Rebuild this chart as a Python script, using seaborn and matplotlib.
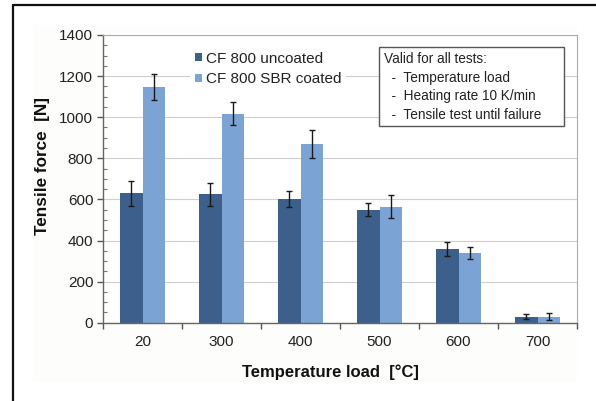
import numpy as np
import pandas as pd
import matplotlib
matplotlib.use("Agg")
import matplotlib.pyplot as plt
from matplotlib.lines import Line2D
from matplotlib.patches import Rectangle
from matplotlib.ticker import MultipleLocator, FixedLocator
import seaborn as sns

# Tensile force after temperature load, mean and scatter per series
temperatures = ["20", "300", "400", "500", "600", "700"]
uncoated_force = [630, 625, 603, 550, 360, 30]
uncoated_err = [60, 55, 40, 33, 33, 12]
coated_force = [1148, 1018, 870, 565, 340, 30]
coated_err = [63, 55, 68, 55, 28, 18]
series_names = ["CF 800 uncoated", "CF 800 SBR coated"]
series_colors = ["#3c5f8c", "#7ba4d4"]
note_lines = ["Valid for all tests:",
              "  -  Temperature load",
              "  -  Heating rate 10 K/min",
              "  -  Tensile test until failure"]

sns.set_theme(style="white")
plt.rcParams["font.family"] = ["Liberation Sans", "DejaVu Sans"]

df = pd.DataFrame({
    "Temperature": temperatures * 2,
    "Force": uncoated_force + coated_force,
    "Series": [series_names[0]] * len(temperatures) + [series_names[1]] * len(temperatures),
})
errors = {series_names[0]: uncoated_err, series_names[1]: coated_err}

fig = plt.figure(figsize=(5.96, 4.01), dpi=100)
fig.patch.set_facecolor("white")

# faint chart-area background
bg = Rectangle((33 / 596, 1 - 382 / 401), (577 - 33) / 596, (382 - 25) / 401,
               transform=fig.transFigure, facecolor="#fdfdfc", edgecolor="none",
               zorder=-10)
fig.patches.append(bg)

ax = fig.add_axes([103 / 596, 1 - 322.7 / 401, 474 / 596, 287.7 / 401])
ax.set_facecolor("white")

sns.barplot(data=df, x="Temperature", y="Force", hue="Series",
            order=temperatures, hue_order=series_names, palette=series_colors,
            width=0.57, gap=0, saturation=1, errorbar=None, linewidth=0,
            ax=ax, legend=True, zorder=2)

for container, name in zip(ax.containers, series_names):
    xs = [bar.get_x() + bar.get_width() / 2 for bar in container]
    hs = [bar.get_height() for bar in container]
    ax.errorbar(xs, hs, yerr=errors[name], fmt="none", ecolor="#1a1a1a",
                elinewidth=1, capsize=2.5, capthick=1, zorder=3)

ax.set_ylim(0, 1400)
ax.set_xlim(-0.5, len(temperatures) - 0.5)
ax.yaxis.set_major_locator(MultipleLocator(200))
ax.yaxis.set_minor_locator(MultipleLocator(50))
ax.xaxis.set_minor_locator(FixedLocator(np.arange(-0.5, len(temperatures), 1.0)))

ax.tick_params(axis="y", which="major", direction="out", length=4, width=1,
               color="#555555", labelsize=11, pad=3, labelcolor="#222222", left=True)
ax.tick_params(axis="y", which="minor", direction="in", length=3, width=0.8,
               color="#777777", left=True)
ax.tick_params(axis="x", which="major", length=0, labelsize=11, pad=9, labelcolor="#222222")
ax.tick_params(axis="x", which="minor", direction="out", length=4, width=1,
               color="#555555", bottom=True)

ax.yaxis.grid(True, color="#cfcfcf", linewidth=0.8)
ax.set_axisbelow(True)

for side in ("left", "bottom"):
    ax.spines[side].set_color("#666666")
    ax.spines[side].set_linewidth(1.0)
for side in ("top", "right"):
    ax.spines[side].set_color("#aaaaaa")
    ax.spines[side].set_linewidth(0.8)

ax.set_xlabel("Temperature load  [°C]", fontsize=12, fontweight="bold", color="#111111")
ax.set_ylabel("Tensile force  [N]", fontsize=12.3, fontweight="bold", color="#111111")
ax.xaxis.set_label_coords(0.479, -0.145)
ax.yaxis.set_label_coords(-0.112, 0.545)

leg = ax.legend(loc="upper left", bbox_to_anchor=(0.168, 0.985), frameon=True,
                facecolor="white", edgecolor="none", framealpha=1, fontsize=11,
                handlelength=0.5, handleheight=0.5, handletextpad=0.2,
                labelspacing=0.45, borderpad=0.3, title=None)
leg.get_frame().set_linewidth(0)
for t in leg.get_texts():
    t.set_color("#222222")

# note box
box_x0, box_x1 = (379 - 103) / 474, (564 - 103) / 474
box_y0, box_y1 = (322.7 - 126) / 287.7, (322.7 - 47.3) / 287.7
ax.add_patch(Rectangle((box_x0, box_y0), box_x1 - box_x0, box_y1 - box_y0,
                       transform=ax.transAxes, facecolor="white", edgecolor="#555555",
                       linewidth=1, zorder=5, clip_on=False))
ax.text((384 - 103) / 474, (322.7 - 52) / 287.7, "\n".join(note_lines),
        transform=ax.transAxes, ha="left", va="top", fontsize=9.8, color="#222222",
        linespacing=1.42, zorder=6)

# outer frame lines on top and left
fig.lines.append(Line2D([13 / 596, 1], [1 - 5 / 401, 1 - 5 / 401],
                        transform=fig.transFigure, color="#111111", linewidth=1.6))
fig.lines.append(Line2D([13 / 596, 13 / 596], [0, 1 - 5 / 401],
                        transform=fig.transFigure, color="#111111", linewidth=1.6))

fig.savefig("out.png", dpi=100)
